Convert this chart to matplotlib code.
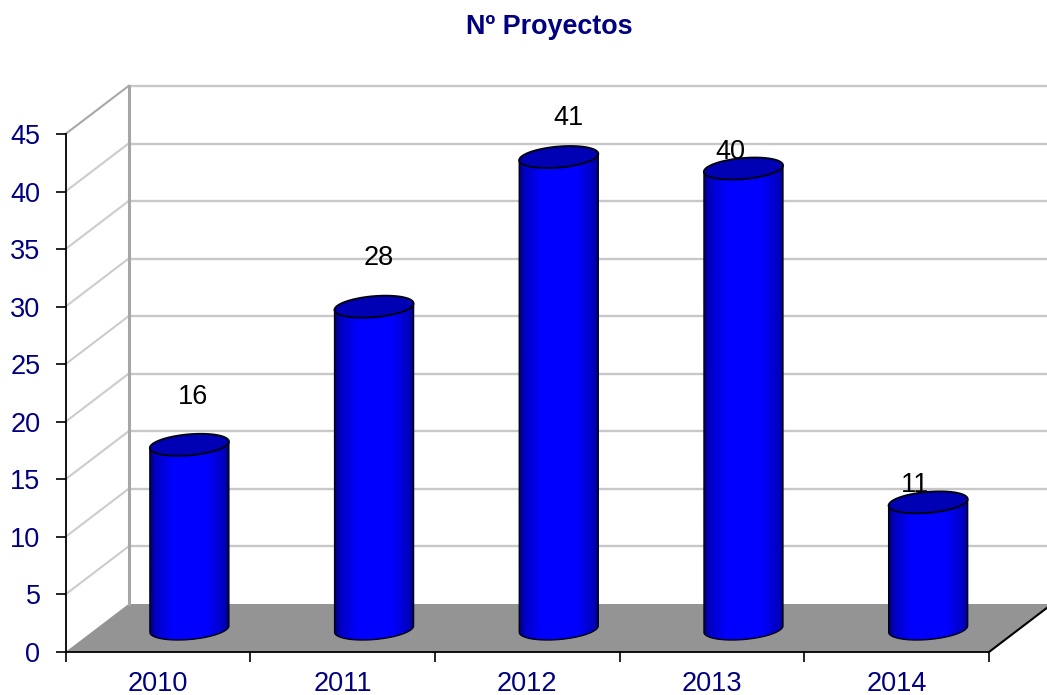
import matplotlib
matplotlib.use("Agg")
import matplotlib.pyplot as plt
from matplotlib.patches import Polygon
import numpy as np

years = ["2010", "2011", "2012", "2013", "2014"]
proyectos = [16, 28, 41, 40, 11]
y_ticks = [0, 5, 10, 15, 20, 25, 30, 35, 40, 45]

NAVY = "#000080"
plt.rcParams["font.family"] = ["Liberation Sans", "DejaVu Sans"]

# everything is laid out in pixels of a 1047x695 picture
W, H = 1047, 695
x0, x1 = 65.5, 989.0
y0, y45 = 652.0, 134.0
fig = plt.figure(figsize=(W / 100, H / 100), dpi=100)
ax = fig.add_axes([x0 / W, (H - y0) / H, (x1 - x0) / W, (y0 - y45) / H])
ax.patch.set_visible(False)

# size of one pixel in data units
px = 5 / (x1 - x0)
py = 45 / (y0 - y45)
depth_x = 63 * px
depth_y = 48 * py

# floor
ax.add_patch(Polygon([(0, 0), (5, 0), (5 + depth_x, depth_y), (depth_x, depth_y)],
                     fc="#949494", ec="none", zorder=1, clip_on=False))

# grid on the side and the back wall
for v in y_ticks[1:]:
    c = "#a8a8a8" if v == 45 else "#cccccc"
    ax.plot([0, depth_x], [v, v + depth_y], color=c, lw=1.5, zorder=1, clip_on=False)
    ax.plot([depth_x, 5 + depth_x + 1], [v + depth_y, v + depth_y], color="#c8c8c8", lw=1.7,
            zorder=1, clip_on=False)
ax.plot([depth_x, depth_x], [depth_y, 45 + depth_y], color="#a6a6a6", lw=2.2, zorder=1.5,
        clip_on=False)
ax.plot([5, 5 + depth_x], [0, depth_y], color="black", lw=1.5, zorder=2, clip_on=False)

# labels sit behind the cylinders, "11" and "40" get partly covered
label_dx = [3.5, 4.5, 10, -13, -13]
label_dy = [48, 49, 39, 17, 17]

half_w = 39.5 * px
tilt = 3.2 * py
minor = 10.5 * py
t = np.linspace(0, 2 * np.pi, 121)
shade = np.interp(np.linspace(0, 1, 160), [0, 0.06, 0.28, 0.72, 0.94, 1], [110, 190, 255, 255, 190, 110])
grad = np.zeros((1, 160, 3))
grad[0, :, 2] = shade / 255

for i, v in enumerate(proyectos):
    cx = i + 0.5 + depth_x / 2
    base = depth_y / 2 - 1 * py
    top = base + v
    ex = cx + half_w * np.cos(t)
    ey = minor * np.sin(t) + tilt * np.cos(t)

    # body outline: lower half of bottom ellipse, then upper side back down
    low = t <= np.pi
    lower_x = ex[~low]
    lower_y = base + ey[~low]
    body = np.column_stack([
        np.concatenate([[cx - half_w], lower_x, [cx + half_w]]),
        np.concatenate([[top - tilt], lower_y, [top + tilt]]),
    ])
    patch = Polygon(body, closed=True, fc="none", ec="#000010", lw=1.0, zorder=4, clip_on=False)
    ax.add_patch(patch)
    im = ax.imshow(grad, extent=[cx - half_w, cx + half_w, base - 2 * minor, top + minor],
                   aspect="auto", zorder=3.5, interpolation="bilinear")
    im.set_clip_path(patch)

    ax.fill(ex, top + ey, fc="#0000b4", ec="#000010", lw=1.4, zorder=5, clip_on=False)

    ax.text(cx + label_dx[i] * px, top + label_dy[i] * py, str(v), ha="center", va="center",
            fontsize=19.5, color="black", zorder=3)

ax.set_xlim(0, 5)
ax.set_ylim(0, 45)
for s in ["top", "right"]:
    ax.spines[s].set_visible(False)
for s in ["left", "bottom"]:
    ax.spines[s].set_linewidth(1.3)
    ax.spines[s].set_zorder(2.5)

ax.set_yticks(y_ticks)
ax.set_xticks(range(6))
ax.set_xticklabels([])
ax.set_xticks(np.arange(5) + 0.5, labels=years, minor=True)
ax.tick_params(axis="both", which="major", length=7, width=1.2, color="black")
ax.tick_params(axis="x", which="minor", length=0, pad=13.5, labelsize=19.5, labelcolor=NAVY)
ax.tick_params(axis="y", labelsize=19.5, labelcolor=NAVY, pad=11)

fig.text(549 / W, 1 - 27.5 / H, "Nº Proyectos", ha="center", va="center", fontsize=19.4,
         fontweight="bold", color=NAVY)

fig.savefig("out.png", dpi=100)
